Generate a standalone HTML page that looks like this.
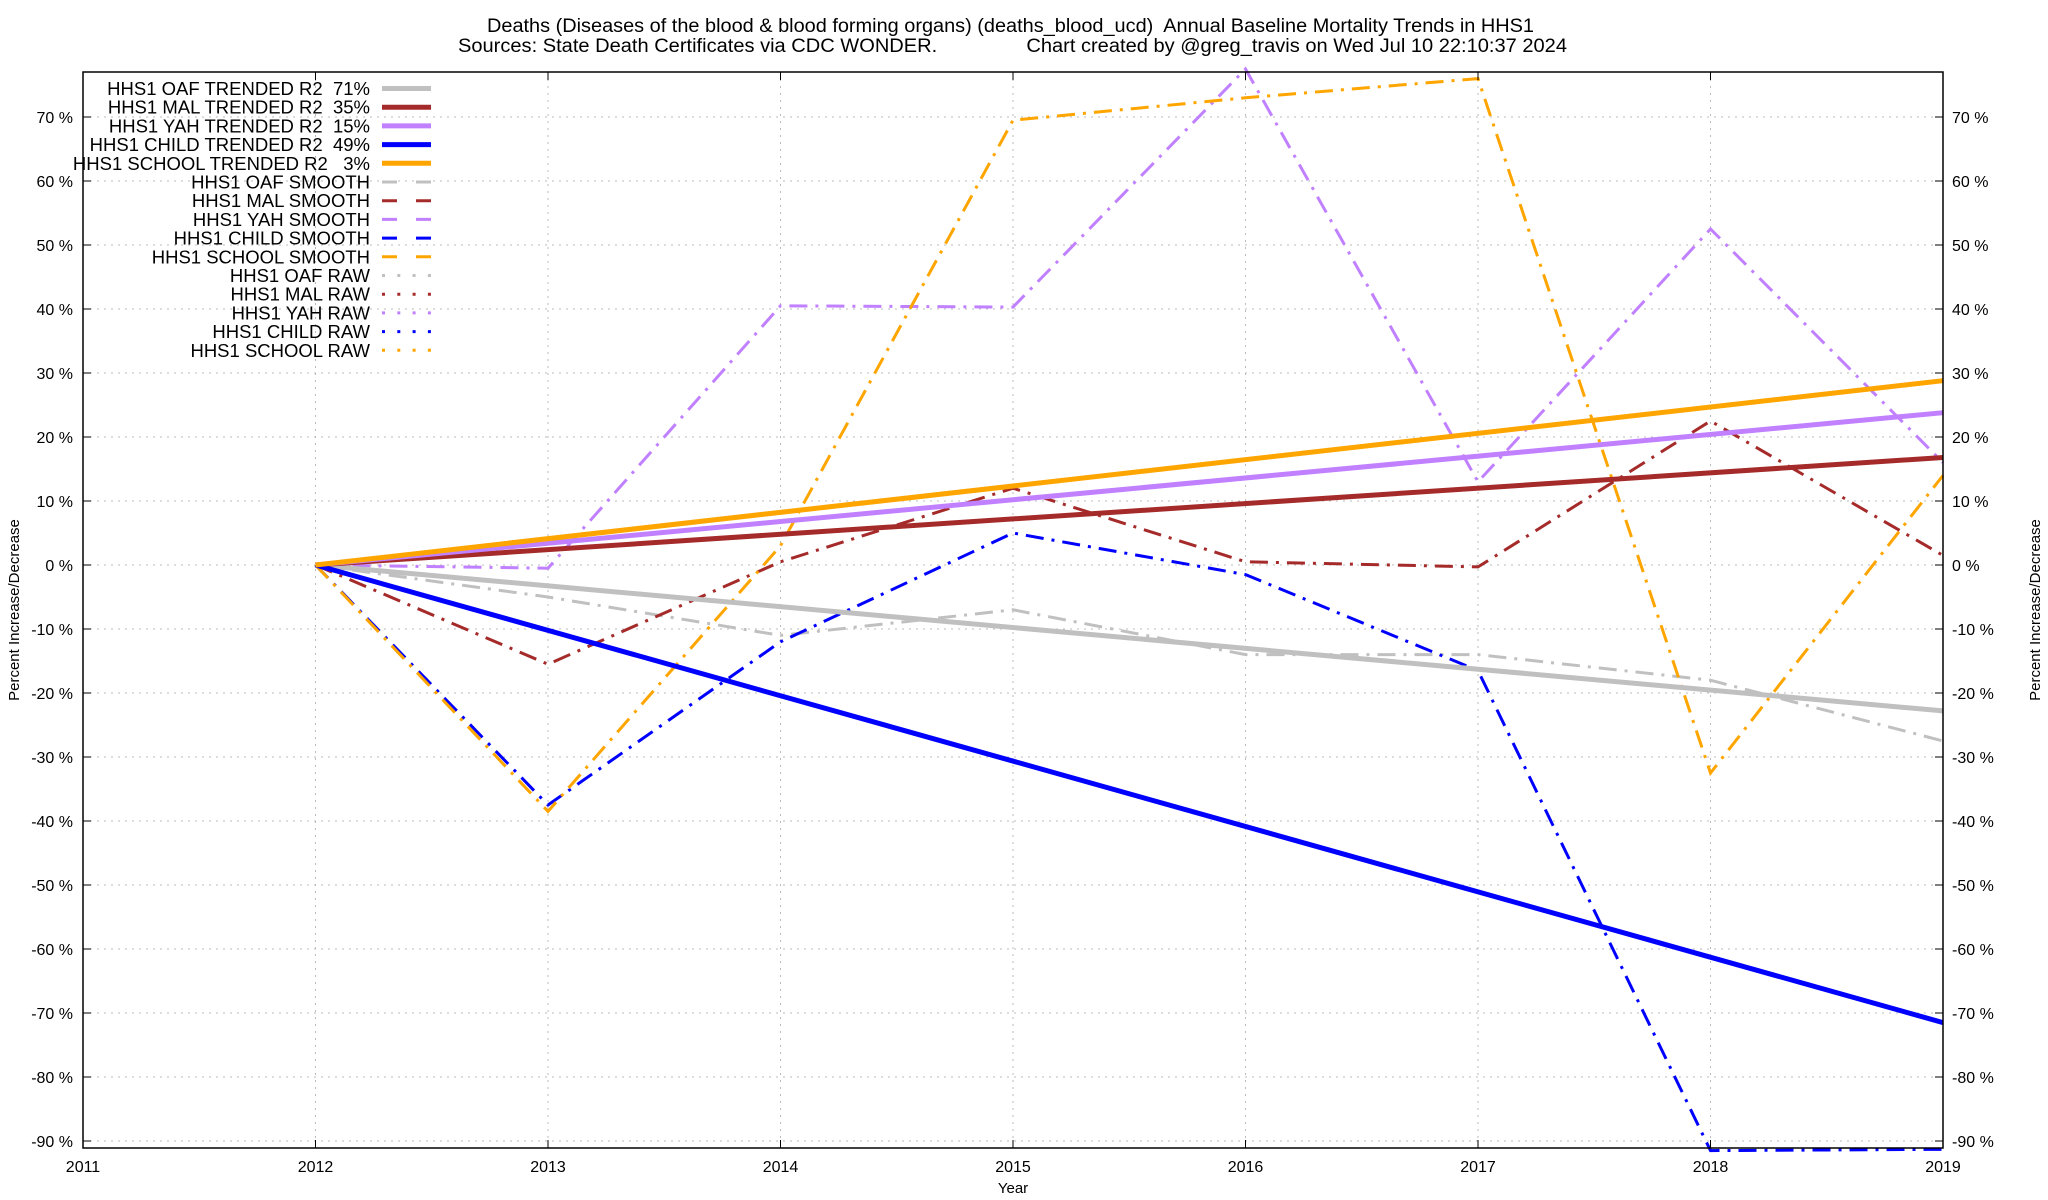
<!DOCTYPE html>
<html><head><meta charset="utf-8">
<style>
html,body{margin:0;padding:0;background:#fff;}
svg{display:block;font-family:"Liberation Sans",sans-serif;}
text{white-space:pre;}
</style></head>
<body>
<svg id="chart" width="2048" height="1200" viewBox="0 0 2048 1200" xmlns="http://www.w3.org/2000/svg">
<rect width="2048" height="1200" fill="#fff"/>
<text x="487" y="32" font-size="19" textLength="1047" lengthAdjust="spacingAndGlyphs" xml:space="preserve">Deaths (Diseases of the blood &amp; blood forming organs) (deaths_blood_ucd)  Annual Baseline Mortality Trends in HHS1</text>
<text x="458" y="52" font-size="19" textLength="1109" lengthAdjust="spacingAndGlyphs" xml:space="preserve">Sources: State Death Certificates via CDC WONDER.                Chart created by @greg_travis on Wed Jul 10 22:10:37 2024</text>
<g id="grid"></g>
<g id="series"></g>
<rect x="83" y="72" width="1860" height="1076" fill="none" stroke="#000" stroke-width="1.5"/>
<g id="axes"></g>
<g id="legend"></g>
<text x="1013" y="1193" font-size="15" text-anchor="middle">Year</text>
<text transform="translate(19,610) rotate(-90)" font-size="15" text-anchor="middle">Percent Increase/Decrease</text>
<text transform="translate(2040,610) rotate(-90)" font-size="15" text-anchor="middle">Percent Increase/Decrease</text>
</svg>
<script>
const years = [2012,2013,2014,2015,2016,2017,2018,2019];
const xTicks = [2011,2012,2013,2014,2015,2016,2017,2018,2019];
const yTicks = [70,60,50,40,30,20,10,0,-10,-20,-30,-40,-50,-60,-70,-80,-90];
const oafTrendEnds = [0,-22.8];
const malTrendEnds = [0,16.8];
const yahTrendEnds = [0,23.8];
const childTrendEnds = [0,-71.5];
const schoolTrendEnds = [0,28.8];
const oafSmooth = [0,-5,-11,-7,-14,-14,-18,-27.5];
const malSmooth = [0,-15.5,0.5,12,0.5,-0.3,22.5,1.5];
const yahSmooth = [0,-0.5,40.5,40.3,77.5,13,52.5,16];
const childSmooth = [0,-37.5,-12,5,-1.5,-16.5,-91.5,-91.3];
const schoolSmooth = [0,-38.5,3,69.5,73,76,-32.5,14];
const legendLabels = ["HHS1 OAF TRENDED R2  71%","HHS1 MAL TRENDED R2  35%","HHS1 YAH TRENDED R2  15%","HHS1 CHILD TRENDED R2  49%","HHS1 SCHOOL TRENDED R2   3%","HHS1 OAF SMOOTH","HHS1 MAL SMOOTH","HHS1 YAH SMOOTH","HHS1 CHILD SMOOTH","HHS1 SCHOOL SMOOTH","HHS1 OAF RAW","HHS1 MAL RAW","HHS1 YAH RAW","HHS1 CHILD RAW","HHS1 SCHOOL RAW"];

const NS="http://www.w3.org/2000/svg";
const X0=83,X1=1943,Y0=72,Y1=1148;
const xs=v=>X0+(v-2011)*(X1-X0)/8;
const ys=v=>565-v*6.4;
const colors=["#c0c0c0","#a52a2a","#c080ff","#0000ff","#ffa500"];
function mk(t,a,p){const e=document.createElementNS(NS,t);for(const k in a)e.setAttribute(k,a[k]);(p||document.getElementById('chart')).appendChild(e);return e;}
const grid=document.getElementById('grid'),axes=document.getElementById('axes'),ser=document.getElementById('series'),leg=document.getElementById('legend');
xTicks.forEach(t=>{
  const x=xs(t);
  if(t>2011&&t<2019){const g=mk('line',{x1:x,x2:x,y1:Y0,y2:Y1,stroke:'#bbb','stroke-width':1,'stroke-dasharray':'2,5'},grid);
  
  }
  const tx=mk('text',{x:x,y:Y1+24,'font-size':16,'text-anchor':'middle'},axes);tx.textContent=t;
  
  
  mk('line',{x1:x,x2:x,y1:Y1,y2:Y1-8,stroke:'#000'},axes);
  mk('line',{x1:x,x2:x,y1:Y0,y2:Y0+8,stroke:'#000'},axes);
});
yTicks.forEach(t=>{
  const y=ys(t);
  const g=mk('line',{x1:X0,x2:X1,y1:y,y2:y,stroke:'#bbb','stroke-width':1,'stroke-dasharray':'2,5'},grid);
  
  
  mk('line',{x1:X0,x2:X0+8,y1:y,y2:y,stroke:'#000'},axes);
  mk('line',{x1:X1,x2:X1-8,y1:y,y2:y,stroke:'#000'},axes);
  const l=mk('text',{x:X0-10,y:y+6,'font-size':16,'text-anchor':'end'},axes);l.textContent=t+' %';
  
  
  const r=mk('text',{x:X1+9,y:y+6,'font-size':16},axes);r.textContent=t+' %';
  
  
});
const trends=[oafTrendEnds,malTrendEnds,yahTrendEnds,childTrendEnds,schoolTrendEnds];
const smooths=[oafSmooth,malSmooth,yahSmooth,childSmooth,schoolSmooth];
const names=['oaf','mal','yah','child','school'];
smooths.forEach((s,i)=>{
  const pts=s.map((v,j)=>xs(years[j])+','+ys(v)).join(' ');
  const p=mk('polyline',{points:pts,fill:'none',stroke:colors[i],'stroke-width':3,'stroke-dasharray':'18,8,3,8'},ser);
  
  
});
trends.forEach((s,i)=>{
  const p=mk('line',{x1:xs(2012),y1:ys(s[0]),x2:xs(2019),y2:ys(s[1]),stroke:colors[i],'stroke-width':5},ser);
  
  
});
legendLabels.forEach((lab,i)=>{
  const y=88.5+i*18.7;
  const t=mk('text',{x:370,y:y+6.5,'font-size':18.5,'text-anchor':'end'},leg);t.textContent=lab;
  
  
  const c=colors[i%5];
  let a={x1:382,x2:431,y1:y,y2:y,stroke:c};
  if(i<5){a['stroke-width']=5;}
  else if(i<10){a['stroke-width']=3;a['stroke-dasharray']='15,19';}
  else {a['stroke-width']=3;a['stroke-dasharray']='3,12.3';}
  mk('line',a,leg);
});
</script>
</body></html>
